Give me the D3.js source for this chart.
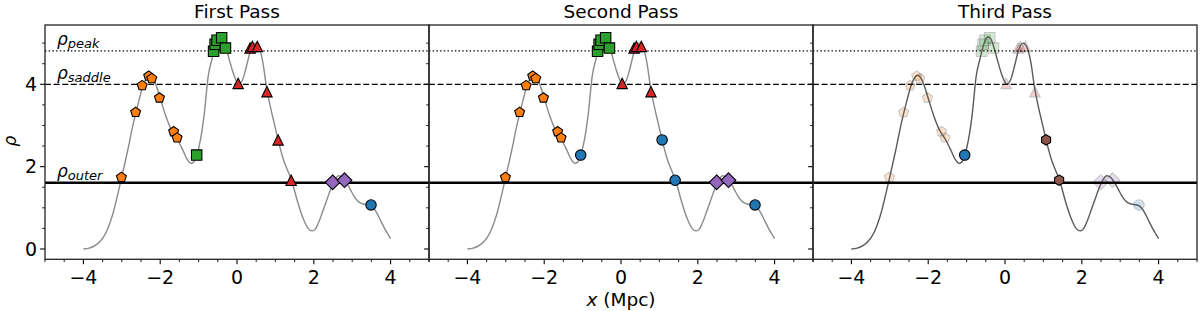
<!DOCTYPE html>
<html><head><meta charset="utf-8">
<script src="https://cdn.jsdelivr.net/npm/d3@7"></script>
<style>
body{margin:0;background:#fff}
svg{display:block}
text{font-family:"DejaVu Sans",sans-serif;fill:#000}
</style>
</head><body>
<svg id="chart" width="1200" height="311"></svg>
<script>
// ---------------- data ----------------
const panelTitles = ["First Pass", "Second Pass", "Third Pass"];
const xTicks = [-4, -2, 0, 2, 4];
const yTicks = [0, 2, 4];

// density profile rho(x)
const curveX = [-4.0,-3.85,-3.7,-3.55,-3.4,-3.25,-3.1,-3.0,-2.85,-2.7,-2.55,-2.45,-2.36,-2.28,-2.2,-2.1,-2.0,-1.85,-1.7,-1.55,-1.4,-1.3,-1.2,-1.12,-1.05,-0.95,-0.85,-0.75,-0.65,-0.55,-0.45,-0.38,-0.3,-0.2,-0.1,0.0,0.05,0.15,0.25,0.35,0.47,0.57,0.67,0.77,0.87,0.97,1.07,1.2,1.3,1.42,1.55,1.65,1.75,1.85,1.96,2.05,2.15,2.25,2.35,2.45,2.55,2.65,2.75,2.85,2.95,3.05,3.15,3.25,3.35,3.45,3.55,3.65,3.75,3.85,3.95,4.0];
const curveY = [0.0,0.02,0.08,0.2,0.42,0.8,1.35,1.75,2.38,3.05,3.62,3.96,4.15,4.22,4.17,3.96,3.66,3.22,2.88,2.66,2.38,2.18,2.08,2.12,2.27,2.66,3.3,4.2,4.62,4.98,5.15,5.12,4.93,4.6,4.28,4.05,4.0,4.12,4.45,4.82,5.0,4.9,4.55,3.92,3.45,3.05,2.65,2.2,1.95,1.67,1.24,0.93,0.68,0.5,0.44,0.5,0.7,0.96,1.22,1.48,1.68,1.78,1.74,1.62,1.45,1.28,1.16,1.1,1.08,1.07,1.0,0.86,0.67,0.49,0.33,0.25];

// threshold levels
const levelNames = ["peak", "saddle", "outer"];
const levelValues = [4.81, 4.0, 1.61];

// sample points
const pointX = [-3.01,-2.64,-2.47,-2.30,-2.22,-2.02,-1.65,-1.56,-1.05,-0.61,-0.57,-0.52,-0.40,-0.30,0.03,0.34,0.40,0.53,0.78,1.07,1.41,2.49,2.80,3.49];
const pointY = [1.74,3.32,3.97,4.20,4.14,3.67,2.85,2.70,2.28,4.80,4.97,5.07,5.13,4.88,4.02,4.88,4.92,4.92,3.82,2.65,1.67,1.62,1.67,1.07];
// group of each point per pass
const firstPass  = ["A","A","A","A","A","A","A","A","B","B","B","B","B","B","C","C","C","C","C","C","C","D","D","E"];
const secondPass = ["A","A","A","A","A","A","A","A","E","B","B","B","B","B","C","C","C","C","C","E","E","D","D","E"];
const thirdPass  = ["A","A","A","A","A","A","A","A","E","B","B","B","B","B","C","C","C","C","C","F","F","D","D","E"];
const thirdActive = [0,0,0,0,0,0,0,0,1,0,0,0,0,0,0,0,0,0,0,1,1,0,0,0];

const groupColor = {A:"#ff7f0e", B:"#2ca02c", C:"#d62728", D:"#9467bd", E:"#1f77b4", F:"#8c564b"};
const groupShape = {A:"pentagon", B:"square", C:"triangle", D:"diamond", E:"circle", F:"hexagon"};

// ---------------- layout ----------------
const svg = d3.select("#chart");
const plotTop = 25, plotBottom = 259.3;
const panelX = [[45, 429], [429, 813], [813, 1197]];
const y = d3.scaleLinear().domain([-0.25, 5.44]).range([plotBottom, plotTop]);

function polygon(n, r, start) {
  const pts = d3.range(n).map(k => {
    const a = start + k * 2 * Math.PI / n;
    return [r * Math.cos(a), r * Math.sin(a)];
  });
  return "M" + pts.map(p => p[0].toFixed(2) + "," + p[1].toFixed(2)).join("L") + "Z";
}
function markerPath(shape, s) {
  const h = s / 2;
  switch (shape) {
    case "pentagon": return polygon(5, h, -Math.PI / 2);
    case "hexagon": return polygon(6, h, -Math.PI / 2);
    case "square": return `M${-h},${-h}H${h}V${h}H${-h}Z`;
    case "triangle": return `M0,${-h}L${h},${h}L${-h},${h}Z`;
    case "diamond": { const d = s * 0.7071; return `M0,${-d}L${d},0L0,${d}L${-d},0Z`; }
    default: return d3.symbol(d3.symbolCircle, Math.PI * h * h)();
  }
}

const passes = [firstPass, secondPass, thirdPass];
const defs = svg.append("defs");

panelX.forEach((px, i) => {
  const x = d3.scaleLinear().domain([-5, 5]).range(px);
  const g = svg.append("g");
  const clipId = "clip" + i;
  defs.append("clipPath").attr("id", clipId)
    .append("rect").attr("x", px[0]).attr("y", plotTop).attr("width", px[1] - px[0]).attr("height", plotBottom - plotTop);
  const inner = g.append("g").attr("clip-path", `url(#${clipId})`);

  const line = d3.line().x((d, k) => x(curveX[k])).y(d => y(d)).curve(d3.curveMonotoneX);
  const curveColor = i === 2 ? "#5a5a5a" : "#8a8a8a";

  const groups = passes[i];
  const faded = pointX.map((v, k) => i === 2 && !thirdActive[k]);
  const mk = (k) => {
    const grp = groups[k];
    inner.append("path")
      .attr("d", markerPath(groupShape[grp], 10.4))
      .attr("transform", `translate(${x(pointX[k])},${y(pointY[k])})`)
      .attr("fill", groupColor[grp])
      .attr("stroke", "#000").attr("stroke-width", 1.1)
      .attr("stroke-linejoin", "miter")
      .attr("opacity", faded[k] ? 0.22 : 1);
  };
  if (i === 2) pointX.forEach((v, k) => { if (faded[k]) mk(k); });

  inner.append("path").attr("d", line(curveY))
    .attr("fill", "none").attr("stroke", curveColor).attr("stroke-width", 1.4);

  const styles = [
    {dash: "1.4,2.3", w: 1.2},
    {dash: "6,2.6", w: 1.2},
    {dash: null, w: 2.6}
  ];
  levelValues.forEach((v, k) => {
    inner.append("line").attr("x1", px[0]).attr("x2", px[1]).attr("y1", y(v)).attr("y2", y(v))
      .attr("stroke", "#000").attr("stroke-width", styles[k].w)
      .attr("stroke-dasharray", styles[k].dash);
  });

  pointX.forEach((v, k) => { if (!faded[k]) mk(k); });

  if (i === 0) {
    levelValues.forEach((v, k) => {
      const t = g.append("text").attr("x", 57).attr("y", y(v) - 5.5)
        .style("font-style", "italic").style("font-size", "17px");
      t.append("tspan").text("ρ");
      t.append("tspan").attr("dy", 3).style("font-size", "13px").text(levelNames[k]);
    });
  }

  const xMinor = d3.range(-5, 5.001, 0.5).filter(v => Math.abs(v % 2) > 0.01);
  const yMinor = d3.range(0.5, 5.44, 0.5).filter(v => Math.abs(v % 2) > 0.01);
  xMinor.forEach(v => g.append("line").attr("x1", x(v)).attr("x2", x(v)).attr("y1", plotBottom).attr("y2", plotBottom + 2.8).attr("stroke", "#000").attr("stroke-width", 0.9));
  xTicks.forEach(v => {
    g.append("line").attr("x1", x(v)).attr("x2", x(v)).attr("y1", plotBottom).attr("y2", plotBottom + 4.9).attr("stroke", "#000").attr("stroke-width", 1.1);
    g.append("text").attr("x", x(v)).attr("y", 283.5).attr("text-anchor", "middle").style("font-size", "19px")
      .text(v < 0 ? "\u2212" + Math.abs(v) : String(v));
  });
  yMinor.forEach(v => g.append("line").attr("x1", px[0] - 2.8).attr("x2", px[0]).attr("y1", y(v)).attr("y2", y(v)).attr("stroke", "#000").attr("stroke-width", 0.9));
  yTicks.forEach(v => {
    g.append("line").attr("x1", px[0] - 4.9).attr("x2", px[0]).attr("y1", y(v)).attr("y2", y(v)).attr("stroke", "#000").attr("stroke-width", 1.1);
    if (i === 0) g.append("text").attr("x", 37).attr("y", y(v)).attr("dy", "0.36em").attr("text-anchor", "end").style("font-size", "19px").text(v);
  });

  g.append("rect").attr("x", px[0]).attr("y", plotTop).attr("width", px[1] - px[0]).attr("height", plotBottom - plotTop)
    .attr("fill", "none").attr("stroke", "#222").attr("stroke-width", 1.3);

  g.append("text").attr("x", (px[0] + px[1]) / 2).attr("y", 18.3).attr("text-anchor", "middle")
    .style("font-size", "18.5px").text(panelTitles[i]);
});

const xl = svg.append("text").attr("x", 621).attr("y", 306).attr("text-anchor", "middle").style("font-size", "18.5px");
xl.append("tspan").style("font-style", "italic").text("x");
xl.append("tspan").text(" (Mpc)");
svg.append("text").attr("transform", "translate(15.5,141) rotate(-90)").attr("text-anchor", "middle")
  .style("font-size", "17px").style("font-style", "italic").text("ρ");
</script>
</body></html>
